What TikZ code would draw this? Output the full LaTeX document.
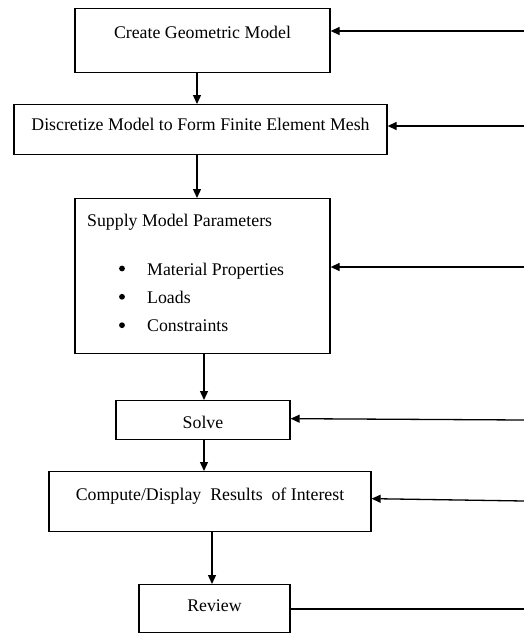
\documentclass[tikz,border=0pt]{standalone}
\usepackage{fontspec}
\setmainfont{Liberation Serif}
\usetikzlibrary{arrows.meta}

\tikzset{
	box/.style={draw, line width=1.3pt, inner sep=0pt, anchor=north, font=\fontsize{17.8}{21}\selectfont},
	txt/.style={inner sep=0pt, font=\fontsize{17.8}{21}\selectfont},
	dot/.style={circle, fill, inner sep=0pt, minimum size=5.8pt},
	arr/.style={line width=1.3pt, -{Triangle[length=9pt,width=8pt]}},
}

\begin{document}
\begin{tikzpicture}[x=1pt, y=-1pt]
	\def\xR{524} %rechter Rand
	\useasboundingbox (0,0) rectangle (\xR,633);
	
	%Kaesten
	\node[box, minimum width=255pt, text height=29.5pt, text depth=34.5pt] (geom) at (202.5,8) {Create Geometric Model};
	\node[box, minimum width=373pt, text height=25.5pt, text depth=24.5pt] (mesh) at (200.5,104) {Discretize Model to Form Finite Element Mesh};
	\node[box, minimum width=255pt, minimum height=155pt] (supply) at (202.5,198) {};
	\node[box, minimum width=174pt, text height=28.3pt, text depth=10.7pt] (solve) at (203,400) {Solve};
	\node[box, minimum width=322pt, text height=29pt, text depth=31pt] (comp) at (210,471) {Compute/Display\ \ Results\ \ of Interest};
	\node[box, minimum width=151pt, text height=27pt, text depth=21pt] (review) at (214.5,584) {Review};
	
	%Parameter
	\node[txt, anchor=base west] (param) at (87,226.7) {Supply Model Parameters};
	\foreach \y/\t [count=\i] in {275/Material Properties, 303.3/Loads, 331.7/Constraints}{
		\node[dot] (dot\i) at (122,\y-6.5) {};
		\node[txt, anchor=base west] (item\i) at (147,\y) {\t};
	}
	
	%Ablauf
	\draw[arr] ([xshift=-5.5pt]geom.south) -- ([xshift=-3.5pt]mesh.north);
	\draw[arr] ([xshift=-3.5pt]mesh.south) -- ([xshift=-5.5pt]supply.north);
	\draw[arr] ([xshift=1.5pt]supply.south) -- ([xshift=1pt]solve.north);
	\draw[arr] ([xshift=1pt]solve.south) -- ([xshift=-6pt]comp.north);
	\draw[arr] ([xshift=2pt]comp.south) -- ([xshift=-2.5pt]review.north);
	
	%Rueckfuehrung
	\coordinate (fbGeom) at (\xR,31);
	\coordinate (fbMesh) at (\xR,126);
	\coordinate (fbSupply) at (\xR,267);
	\coordinate (fbSolve) at (\xR,420);
	\coordinate (fbComp) at (\xR,501);
	\coordinate (fbReview) at (\xR,609);
	
	\draw[arr] (fbGeom) -- (geom.east |- fbGeom);
	\draw[arr] (fbMesh) -- (mesh.east |- fbMesh);
	\draw[arr] (fbSupply) -- (supply.east |- fbSupply);
	\draw[arr] (fbSolve) -- ([yshift=1.5pt]solve.east);
	\draw[arr] (fbComp) -- ([yshift=3pt]comp.east);
	\draw[line width=1.3pt] (review.east |- fbReview) -- (fbReview);
	
\end{tikzpicture}
\end{document}
